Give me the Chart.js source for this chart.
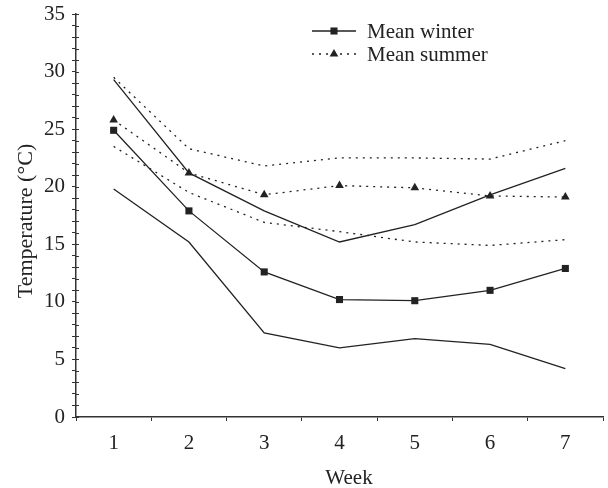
<!DOCTYPE html>
<html lang="en">
<head>
<meta charset="UTF-8">
<title>Temperature by week</title>
<script src="https://cdn.jsdelivr.net/npm/chart.js"></script>
<style>
  body { margin: 0; background: #fff; }
  #wrap { width: 608px; height: 488px; }
</style>
</head>
<body>
<div id="wrap"><canvas id="grafico"></canvas></div>

<script>
  // dados
  const weeks = ['1', '2', '3', '4', '5', '6', '7'];
  const winterMean = [24.9, 17.9, 12.6, 10.2, 10.1, 11.0, 12.9];
  const winterHigh = [29.3, 21.2, 17.9, 15.2, 16.7, 19.3, 21.6];
  const winterLow = [19.8, 15.2, 7.3, 6.0, 6.8, 6.3, 4.2];
  const summerMean = [25.8, 21.2, 19.3, 20.1, 19.9, 19.2, 19.1];
  const summerHigh = [29.5, 23.3, 21.8, 22.5, 22.5, 22.4, 24.0];
  const summerLow = [23.5, 19.5, 16.9, 16.1, 15.2, 14.9, 15.4];
  const yTicks = [0, 5, 10, 15, 20, 25, 30, 35];

  const ink = '#222';
  const fonte = 'Liberation Serif';
  const pontilhado = [2, 5];

  function linha(label, data, dashed, marker) {
    return {
      label: label,
      data: data,
      borderColor: ink,
      backgroundColor: ink,
      borderWidth: 1.3,
      borderDash: dashed ? pontilhado : [],
      tension: 0,
      fill: false,
      pointStyle: marker || 'circle',
      pointRadius: marker ? 5 : 0,
      pointHoverRadius: marker ? 5 : 0,
      pointBorderWidth: 0
    };
  }

  // legenda desenhada a mao (linha + marcador) e titulos dos eixos
  const legendaPlugin = {
    id: 'legenda',
    afterDraw(chart) {
      const ctx = chart.ctx;
      const itens = [
        { texto: 'Mean winter', dash: [], marker: 'rect', y: 31 },
        { texto: 'Mean summer', dash: pontilhado, marker: 'triangle', y: 54 }
      ];
      ctx.save();
      itens.forEach(item => {
        ctx.strokeStyle = ink;
        ctx.lineWidth = 1.3;
        ctx.setLineDash(item.dash);
        ctx.beginPath();
        ctx.moveTo(312, item.y);
        ctx.lineTo(356, item.y);
        ctx.stroke();
        ctx.setLineDash([]);
        ctx.fillStyle = ink;
        Chart.helpers.drawPoint(ctx, { pointStyle: item.marker, radius: 5, borderWidth: 0 }, 334, item.y);
        ctx.fillStyle = ink;
        ctx.font = '21px "' + fonte + '"';
        ctx.textBaseline = 'middle';
        ctx.textAlign = 'left';
        ctx.fillText(item.texto, 367, item.y + 1);
      });

      // titulos
      ctx.fillStyle = ink;
      ctx.textAlign = 'center';
      ctx.textBaseline = 'middle';
      ctx.font = '21px "' + fonte + '"';
      ctx.fillText('Week', 349, 478);
      ctx.translate(26, 221);
      ctx.rotate(-Math.PI / 2);
      ctx.font = '22px "' + fonte + '"';
      ctx.fillText('Temperature (°C)', 0, 0);
      ctx.restore();
    }
  };

  // parte interna dos tracos do eixo y (cruzam o eixo)
  const tracosPlugin = {
    id: 'tracos',
    afterDraw(chart) {
      const y = chart.scales.y;
      const ctx = chart.ctx;
      const x0 = chart.chartArea.left;
      ctx.save();
      ctx.strokeStyle = '#333';
      ctx.lineWidth = 1;
      y.ticks.forEach(t => {
        const py = Math.round(y.getPixelForValue(t.value)) + 0.5;
        ctx.beginPath();
        ctx.moveTo(x0, py);
        ctx.lineTo(x0 + 3, py);
        ctx.stroke();
      });
      ctx.restore();
    }
  };

  const config = {
    type: 'line',
    data: {
      labels: weeks,
      datasets: [
        linha('Mean winter', winterMean, false, 'rect'),
        linha('Winter high', winterHigh, false),
        linha('Winter low', winterLow, false),
        linha('Mean summer', summerMean, true, 'triangle'),
        linha('Summer high', summerHigh, true),
        linha('Summer low', summerLow, true)
      ]
    },
    options: {
      responsive: true,
      maintainAspectRatio: false,
      animation: false,
      layout: { padding: { top: 14, right: 3, left: 0, bottom: 0 } },
      plugins: {
        legend: { display: false },
        tooltip: { enabled: false }
      },
      scales: {
        x: {
          offset: true,
          afterFit: s => { s.height = 71; s.paddingLeft = 0; s.paddingRight = 0; },
          grid: { offset: true, drawOnChartArea: false, drawTicks: true, tickLength: 4, color: '#333' },
          border: { color: '#333', width: 1.5 },
          ticks: { color: ink, font: { family: fonte, size: 21 }, padding: 10, maxRotation: 0 },
          title: { display: false }
        },
        y: {
          min: 0,
          max: 35,
          afterFit: s => { s.width = 76; s.paddingTop = 0; s.paddingBottom = 0; },
          grid: { drawOnChartArea: false, drawTicks: true, tickLength: 4, color: '#333' },
          border: { color: '#333', width: 1.5 },
          ticks: {
            stepSize: 1,
            maxTicksLimit: 40,
            autoSkip: false,
            color: ink,
            font: { family: fonte, size: 21 },
            padding: 7,
            callback: v => yTicks.includes(v) ? v : ''
          },
          title: { display: false }
        }
      }
    },
    plugins: [legendaPlugin, tracosPlugin]
  };

  new Chart(document.getElementById('grafico'), config);
</script>
</body>
</html>
